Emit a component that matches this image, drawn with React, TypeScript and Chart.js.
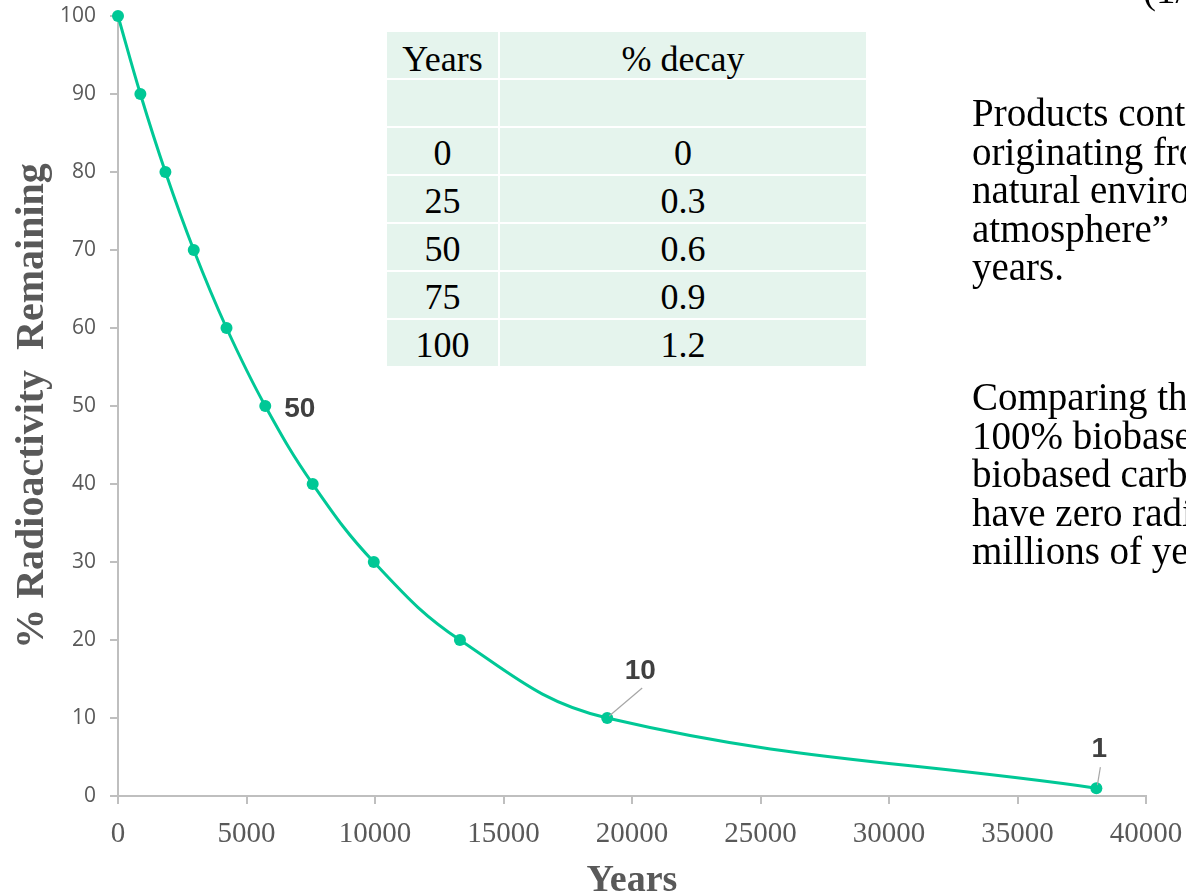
import React, { useEffect, useRef } from "react";
import { Chart, registerables } from "chart.js";

Chart.register(...registerables);

// ---- data ----
const years: number[] = [0, 871, 1845, 2948, 4223, 5730, 7575, 9953, 13305, 19035, 38069];
const remaining: number[] = [100, 90, 80, 70, 60, 50, 40, 30, 20, 10, 1];
const labelledPoints: number[] = [5, 9, 10];
const tableYears: string[] = ["0", "25", "50", "75", "100"];
const tableDecay: string[] = ["0", "0.3", "0.6", "0.9", "1.2"];
const tableHeader: string[] = ["Years", "% decay"];
const para1: string[] = ["Products containing", "originating from the", "natural environment", "atmosphere\u201d", "years."];
const para2: string[] = ["Comparing the", "100% biobased", "biobased carbon", "have zero radioactivity", "millions of years"];

const LINE = "rgb(0,200,150)";
const AXIS = "#bfbfbf";
const TEXT = "#595959";

const labelPlugin = {
  id: "pointLabels",
  afterDatasetsDraw(chart: any) {
    const meta = chart.getDatasetMeta(0);
    const ctx = chart.ctx;
    ctx.save();
    ctx.font = "bold 28px 'Liberation Sans', Arial, sans-serif";
    ctx.fillStyle = "#404040";
    ctx.textBaseline = "middle";
    labelledPoints.forEach((i) => {
      const p = meta.data[i];
      const txt = String(remaining[i]);
      if (i === 5) {
        ctx.textAlign = "left";
        ctx.fillText(txt, p.x + 19, p.y + 3);
      } else if (i === 9) {
        ctx.textAlign = "center";
        ctx.fillText(txt, p.x + 33, p.y - 47);
        ctx.strokeStyle = "#a6a6a6";
        ctx.lineWidth = 1.2;
        ctx.beginPath();
        ctx.moveTo(p.x + 35, p.y - 30);
        ctx.lineTo(p.x + 2, p.y - 2);
        ctx.stroke();
      } else {
        ctx.textAlign = "center";
        ctx.fillText(txt, p.x + 3, p.y - 39);
        ctx.strokeStyle = "#a6a6a6";
        ctx.lineWidth = 1.2;
        ctx.beginPath();
        ctx.moveTo(p.x + 4, p.y - 21);
        ctx.lineTo(p.x + 1, p.y - 3);
        ctx.stroke();
      }
    });
    ctx.restore();
  },
};

function RadioChart() {
  const ref = useRef<HTMLCanvasElement>(null);
  useEffect(() => {
    if (!ref.current) return;
    const chart = new Chart(ref.current, {
      type: "line",
      data: {
        datasets: [
          {
            data: years.map((x, i) => ({ x, y: remaining[i] })),
            borderColor: LINE,
            backgroundColor: LINE,
            borderWidth: 3,
            pointRadius: 6,
            pointBorderWidth: 0,
            tension: 0.4,
            fill: false,
            clip: false,
          },
        ],
      },
      options: {
        responsive: false,
        animation: false,
        devicePixelRatio: 1,
        layout: { autoPadding: false, padding: { top: 16, right: 40, left: 0, bottom: 0 } },
        plugins: { legend: { display: false }, tooltip: { enabled: false } },
        scales: {
          x: {
            type: "linear",
            min: 0,
            max: 40000,
            ticks: {
              stepSize: 5000,
              padding: 13,
              color: TEXT,
              font: { family: "'Liberation Serif', 'Times New Roman', serif", size: 29 },
              maxRotation: 0,
              autoSkip: false,
              callback: (v: any) => String(v),
            },
            grid: { drawOnChartArea: false, drawTicks: true, tickLength: 8, color: AXIS, lineWidth: 2 },
            border: { color: AXIS, width: 2 },
            title: {
              display: true,
              text: "Years",
              color: TEXT,
              font: { family: "'Liberation Serif', 'Times New Roman', serif", size: 38, weight: "bold", lineHeight: 1 },
              padding: { top: 0, bottom: -4 },
            },
            afterFit(scale: any) {
              scale.height = 100;
              scale.paddingLeft = 0;
              scale.paddingRight = 0;
            },
          },
          y: {
            min: 0,
            max: 100,
            ticks: {
              stepSize: 10,
              padding: 14,
              color: TEXT,
              font: { family: "'Open Sans', sans-serif", size: 21 },
            },
            grid: { drawOnChartArea: false, drawTicks: true, tickLength: 8, color: AXIS, lineWidth: 2 },
            border: { color: AXIS, width: 2 },
            title: {
              display: true,
              text: "% Radioactivity  Remaining",
              color: TEXT,
              font: { family: "'Liberation Serif', 'Times New Roman', serif", size: 40, weight: "bold", lineHeight: 1 },
              padding: { top: 13, bottom: 0 },
            },
            afterFit(scale: any) {
              scale.width = 118;
              scale.paddingTop = 0;
              scale.paddingBottom = 0;
            },
          },
        },
      },
      plugins: [labelPlugin],
    } as any);
    return () => chart.destroy();
  }, []);
  return <canvas ref={ref} width={1186} height={896} style={{ position: "absolute", left: 0, top: 0 }} />;
}

const cellStyle: React.CSSProperties = {
  background: "#e5f4ed",
  display: "flex",
  alignItems: "center",
  justifyContent: "center",
  fontFamily: "'Liberation Serif', 'Times New Roman', serif",
  fontSize: 36,
  color: "#000",
  lineHeight: 1,
  paddingTop: 4,
  boxSizing: "border-box",
};

function DecayTable() {
  const rows: string[][] = [tableHeader, ["", ""], ...tableYears.map((y, i) => [y, tableDecay[i]])];
  return (
    <div
      style={{
        position: "absolute",
        left: 387,
        top: 32,
        display: "grid",
        gridTemplateColumns: "111px 366px",
        gridAutoRows: "46px",
        gap: 2,
        background: "#fff",
      }}
    >
      {rows.map((r, ri) =>
        r.map((c, ci) => (
          <div key={ri + "-" + ci} style={{ ...cellStyle, paddingTop: ri === 0 ? 7 : 4 }}>
            {c}
          </div>
        ))
      )}
    </div>
  );
}

const paraStyle: React.CSSProperties = {
  position: "absolute",
  left: 972,
  fontFamily: "'Liberation Serif', 'Times New Roman', serif",
  fontSize: 39,
  lineHeight: "38.5px",
  color: "#000",
  whiteSpace: "nowrap",
};

export default function App() {
  return (
    <div
      style={{
        position: "fixed",
        left: 0,
        top: 0,
        width: 1186,
        height: 896,
        overflow: "hidden",
        background: "#fff",
      }}
    >
      <RadioChart />
      <DecayTable />
      <div style={{ ...paraStyle, left: 1143, top: -29 }}>(1/2</div>
      <div style={{ ...paraStyle, top: 94 }}>
        {para1.map((l, i) => (
          <div key={i}>{l}</div>
        ))}
      </div>
      <div style={{ ...paraStyle, top: 378 }}>
        {para2.map((l, i) => (
          <div key={i}>{l}</div>
        ))}
      </div>
    </div>
  );
}
